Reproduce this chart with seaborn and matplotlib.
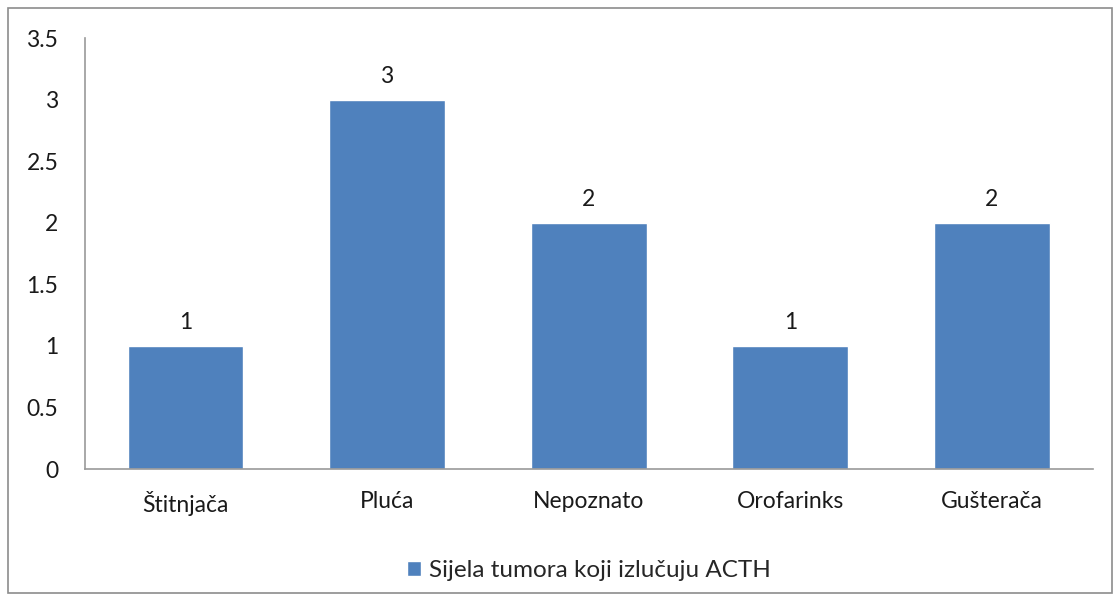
import pandas as pd
import seaborn as sns
import matplotlib.pyplot as plt
from matplotlib.patches import Rectangle

categories = ['Štitnjača', 'Pluća', 'Nepoznato', 'Orofarinks', 'Gušterača']
counts = [1, 3, 2, 1, 2]
series_name = 'Sijela tumora koji izlučuju ACTH'

df = pd.DataFrame({'sijelo': categories, 'broj': counts, 'serija': series_name})

sns.set_style('white')
plt.rcParams['font.family'] = ['Lato', 'DejaVu Sans']

fig = plt.figure(figsize=(11.15, 5.96), dpi=100)
ax = fig.add_axes([0.076, 0.213, 0.904, 0.723])

sns.barplot(data=df, x='sijelo', y='broj', hue='serija', palette=['#4F81BD'],
            width=0.575, saturation=1, ax=ax)

for c in ax.containers:
    ax.bar_label(c, labels=[str(v) for v in counts], padding=9, fontsize=16.5, color='#1a1a1a')

ax.set_ylim(0, 3.5)
ax.set_yticks([0, 0.5, 1, 1.5, 2, 2.5, 3, 3.5])
ax.set_yticklabels(['0', '0.5', '1', '1.5', '2', '2.5', '3', '3.5'])
ax.set_xlabel('')
ax.set_ylabel('')
ax.tick_params(axis='both', length=0, labelsize=16.5, colors='#1a1a1a')
ax.tick_params(axis='y', pad=19)
ax.tick_params(axis='x', pad=16)
for s in ['top', 'right']:
    ax.spines[s].set_visible(False)
for s in ['left', 'bottom']:
    ax.spines[s].set_color('#9a9a9a')
    ax.spines[s].set_linewidth(1.2)

ax.legend(loc='upper center', bbox_to_anchor=(0.5, -0.16), frameon=False,
          fontsize=17.5, handlelength=0.6, handleheight=0.6, handletextpad=0.3)

fig.patches.append(Rectangle((0.007, 0.005), 0.99, 0.982, transform=fig.transFigure,
                             fill=False, edgecolor='#8c8c8c', linewidth=1.2))

fig.savefig('out.png', dpi=100)
